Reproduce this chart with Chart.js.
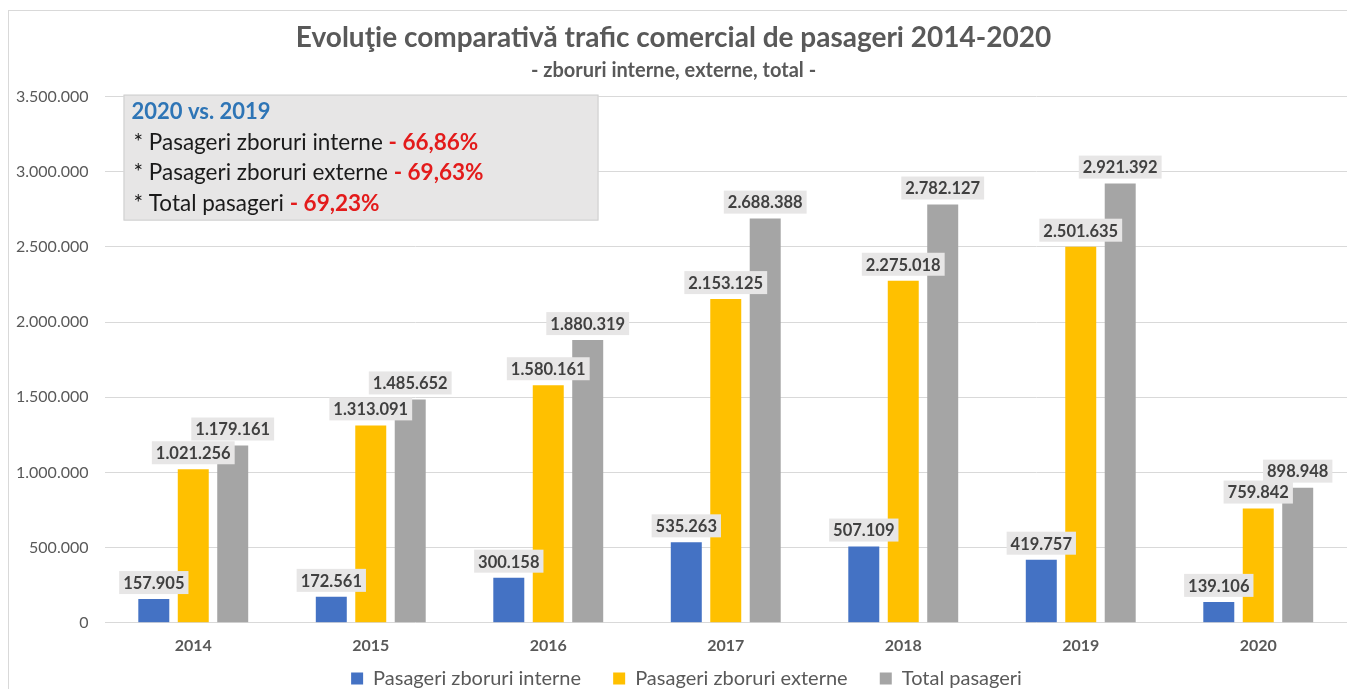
<!DOCTYPE html>
<html>
<head>
<meta charset="utf-8">
<script src="https://cdn.jsdelivr.net/npm/chart.js@4.4.1/dist/chart.umd.min.js"></script>
<style>
  html, body { margin: 0; padding: 0; background: #fff; }
  #wrap { position: relative; width: 1347px; height: 689px; overflow: hidden; }
  #frame { position: absolute; left: 8px; top: 10px; width: 1400px; height: 700px; border: 1px solid #d9d9d9; box-sizing: border-box; pointer-events: none; }
  canvas { position: absolute; left: 0; top: 0; }
</style>
</head>
<body>
<div id="wrap">
  <canvas id="c" width="1347" height="689"></canvas>
  <div id="frame"></div>
</div>
<script>
const categories = ['2014', '2015', '2016', '2017', '2018', '2019', '2020'];
const interne = [157905, 172561, 300158, 535263, 507109, 419757, 139106];
const externe = [1021256, 1313091, 1580161, 2153125, 2275018, 2501635, 759842];
const total = [1179161, 1485652, 1880319, 2688388, 2782127, 2921392, 898948];
const seriesNames = ['Pasageri zboruri interne', 'Pasageri zboruri externe', 'Total pasageri'];
const yTicks = [0, 500000, 1000000, 1500000, 2000000, 2500000, 3000000, 3500000];
const noteTitle = '2020 vs. 2019';
const noteLines = [
  ['* Pasageri zboruri interne ', '- 66,86%'],
  ['* Pasageri zboruri externe ', '- 69,63%'],
  ['* Total pasageri ', '- 69,23%']
];

const FONT = 'Lato, "Open Sans", sans-serif';
function fmt(v) { return String(v).replace(/\B(?=(\d{3})+(?!\d))/g, '.'); }

const labelPlugin = {
  id: 'barLabels',
  afterDatasetsDraw(chart) {
    const ctx = chart.ctx;
    ctx.save();
    ctx.font = 'bold 16.5px ' + FONT;
    ctx.textAlign = 'center';
    ctx.textBaseline = 'middle';
    chart.data.datasets.forEach((ds, di) => {
      const meta = chart.getDatasetMeta(di);
      meta.data.forEach((el, i) => {
        const txt = fmt(ds.data[i]);
        const w = ctx.measureText(txt).width + 8;
        const h = 23;
        const bottom = el.y - 5;
        ctx.fillStyle = '#e7e6e6';
        ctx.fillRect(el.x - w / 2, bottom - h, w, h);
        ctx.fillStyle = '#404040';
        ctx.fillText(txt, el.x, bottom - h / 2 + 1);
      });
    });
    ctx.restore();
  }
};

const notePlugin = {
  id: 'noteBox',
  afterDraw(chart) {
    const ctx = chart.ctx;
    const a = chart.chartArea;
    const x0 = a.left + 19, y0 = a.top - 2, w = 475, h = 126;
    ctx.save();
    ctx.fillStyle = '#e7e6e6';
    ctx.fillRect(x0, y0, w, h);
    ctx.strokeStyle = '#cfcfcf';
    ctx.lineWidth = 1;
    ctx.strokeRect(x0 + 0.5, y0 + 0.5, w - 1, h - 1);
    ctx.textBaseline = 'middle';
    ctx.textAlign = 'left';
    ctx.font = 'bold 22px ' + FONT;
    ctx.fillStyle = '#2e75b6';
    ctx.fillText(noteTitle, x0 + 8, y0 + 17);
    noteLines.forEach((ln, i) => {
      const y = y0 + 48 + i * 30.5;
      ctx.font = '22.5px ' + FONT;
      ctx.fillStyle = '#1a1a1a';
      ctx.fillText(ln[0], x0 + 10, y);
      const tw = ctx.measureText(ln[0]).width;
      ctx.font = 'bold 22.5px ' + FONT;
      ctx.fillStyle = '#e31b1b';
      ctx.fillText(ln[1], x0 + 10 + tw, y);
    });
    ctx.restore();
  }
};

const legendShift = {
  id: 'legendShift',
  afterLayout(chart) {
    if (chart.legend) {
      chart.legend.left += 13; chart.legend.right += 13;
      chart.legend.top -= 6; chart.legend.bottom -= 6;
    }
  }
};

new Chart(document.getElementById('c'), {
  type: 'bar',
  data: {
    labels: categories,
    datasets: [
      { label: seriesNames[0], data: interne, backgroundColor: '#4472c4' },
      { label: seriesNames[1], data: externe, backgroundColor: '#ffc000' },
      { label: seriesNames[2], data: total, backgroundColor: '#a5a5a5' }
    ]
  },
  options: {
    responsive: false,
    animation: false,
    devicePixelRatio: 1,
    layout: { padding: { top: 10, left: 0, right: 0, bottom: -15.5 } },
    datasets: { bar: { categoryPercentage: 0.667, barPercentage: 0.785 } },
    scales: {
      x: {
        grid: { display: false, drawTicks: false },
        border: { display: false },
        ticks: { color: '#595959', font: { family: FONT, size: 16, weight: 'bold' }, padding: 13 }
      },
      y: {
        min: 0, max: 3500000,
        afterBuildTicks(axis) { axis.ticks = yTicks.map(v => ({ value: v })); },
        grid: { color: '#d9d9d9', drawTicks: false },
        border: { display: false },
        ticks: { color: '#595959', font: { family: FONT, size: 16 }, padding: 16, callback: v => fmt(v) }
      }
    },
    plugins: {
      title: {
        display: true,
        text: 'Evoluţie comparativă trafic comercial de pasageri 2014-2020',
        color: '#595959',
        font: { family: FONT, size: 28, weight: 'bold' },
        padding: { top: 11, bottom: 4 }
      },
      subtitle: {
        display: true,
        text: '- zboruri interne, externe, total -',
        color: '#595959',
        font: { family: FONT, size: 20, weight: 'bold' },
        padding: { top: 0, bottom: 14 }
      },
      legend: {
        position: 'bottom',
        labels: {
          color: '#595959', font: { family: FONT, size: 20 }, boxWidth: 12, boxHeight: 12, padding: 6.5,
          generateLabels(chart) {
            const items = Chart.defaults.plugins.legend.labels.generateLabels(chart);
            items.forEach((it, i) => { if (i < items.length - 1) it.text = it.text + '     '; });
            return items;
          }
        }
      },
      tooltip: { enabled: false }
    }
  },
  plugins: [labelPlugin, notePlugin, legendShift]
});
</script>
</body>
</html>
